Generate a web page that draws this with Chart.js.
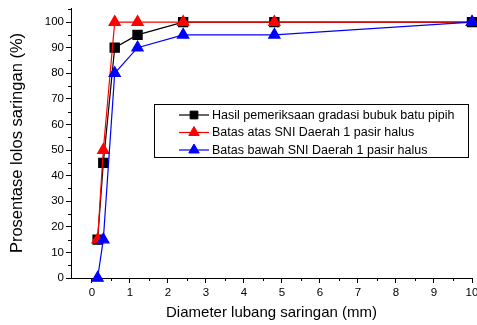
<!DOCTYPE html>
<html>
<head>
<meta charset="utf-8">
<script src="https://cdn.jsdelivr.net/npm/chart.js@4.4.1/dist/chart.umd.min.js"></script>
<style>
  html, body { margin: 0; padding: 0; background: #fff; }
  #wrap { width: 477px; height: 325px; position: relative; }
</style>
</head>
<body>
<div id="wrap"><canvas id="chart"></canvas></div>
<script>
// sieve sizes (mm)
const diameters = [0.15, 0.3, 0.6, 1.2, 2.4, 4.8, 10];
const hasil = [15, 45, 90, 95, 100, 100, 100];
const batasAtas = [15, 50, 100, 100, 100, 100, 100];
const batasBawah = [0, 15, 80, 90, 95, 95, 100];

const xTicks = [0, 1, 2, 3, 4, 5, 6, 7, 8, 9, 10];
const yTicks = [0, 10, 20, 30, 40, 50, 60, 70, 80, 90, 100];
const xMinor = [0.5, 1.5, 2.5, 3.5, 4.5, 5.5, 6.5, 7.5, 8.5, 9.5];
const yMinor = [5, 15, 25, 35, 45, 55, 65, 75, 85, 95, 105];

const FONT = "'Liberation Sans', Arial, sans-serif";

function toPoints(ys) {
    return diameters.map((d, i) => ({ x: d, y: ys[i] }));
}

// minor ticks, shorter than the major ones
const minorTicks = {
    id: "minorTicks",
    afterDraw(chart) {
        const ctx = chart.ctx;
        const xs = chart.scales.x, ys = chart.scales.y;
        ctx.save();
        ctx.strokeStyle = "#000";
        ctx.lineWidth = 1;
        ctx.beginPath();
        xMinor.forEach(v => {
            const px = Math.round(xs.getPixelForValue(v)) + 0.5;
            ctx.moveTo(px, xs.top);
            ctx.lineTo(px, xs.top + 3);
        });
        yMinor.forEach(v => {
            if (v > ys.max) return;
            const py = Math.round(ys.getPixelForValue(v)) + 0.5;
            ctx.moveTo(ys.right, py);
            ctx.lineTo(ys.right - 3, py);
        });
        ctx.stroke();
        ctx.restore();
    }
};

// legend box inside the plot
const boxLegend = {
    id: "boxLegend",
    afterDraw(chart) {
        const ctx = chart.ctx;
        const left = 154, top = 104, width = 314, height = 53;
        ctx.save();
        ctx.fillStyle = "#fff";
        ctx.fillRect(left, top, width, height);
        ctx.strokeStyle = "#000";
        ctx.lineWidth = 1;
        ctx.strokeRect(left + 0.5, top + 0.5, width, height);
        ctx.font = "12.5px " + FONT;
        ctx.textBaseline = "middle";
        chart.data.datasets.forEach((ds, i) => {
            const y = top + 11 + i * 17.5;
            ctx.strokeStyle = ds.borderColor;
            ctx.lineWidth = 1.2;
            ctx.beginPath();
            ctx.moveTo(179, y);
            ctx.lineTo(209, y);
            ctx.stroke();
            ctx.fillStyle = ds.backgroundColor;
            ctx.lineWidth = 1;
            Chart.helpers.drawPoint(ctx, {
                pointStyle: ds.pointStyle,
                radius: ds.pointStyle === "rect" ? 5.5 : 6,
                rotation: 0,
                borderWidth: 1
            }, 194, y);
            ctx.fillStyle = "#000";
            ctx.fillText(ds.label, 212, y + 0.5);
        });
        ctx.restore();
    }
};

const noPadding = () => ({ left: 0, right: 0, top: 0, bottom: 0 });

new Chart(document.getElementById("chart").getContext("2d"), {
    type: "line",
    data: {
        datasets: [
            {
                label: "Hasil pemeriksaan gradasi bubuk batu pipih",
                data: toPoints(hasil),
                borderColor: "#000000",
                backgroundColor: "#000000",
                pointStyle: "rect",
                pointRadius: 6.5,
                borderWidth: 1.2,
                order: 2
            },
            {
                label: "Batas atas SNI Daerah 1 pasir halus",
                data: toPoints(batasAtas),
                borderColor: "#ff0000",
                backgroundColor: "#ff0000",
                pointStyle: "triangle",
                pointRadius: 6.5,
                borderWidth: 1.2,
                order: 1
            },
            {
                label: "Batas bawah SNI Daerah 1 pasir halus",
                data: toPoints(batasBawah),
                borderColor: "#0000ff",
                backgroundColor: "#0000ff",
                pointStyle: "triangle",
                pointRadius: 6.5,
                borderWidth: 1.2,
                order: 0
            }
        ]
    },
    options: {
        responsive: true,
        maintainAspectRatio: false,
        animation: false,
        clip: false,
        layout: {
            autoPadding: false,
            padding: { top: 8, right: 5, left: 0, bottom: 0 }
        },
        elements: {
            line: { tension: 0 },
            point: { borderWidth: 1, hoverRadius: 6.5 }
        },
        plugins: {
            legend: { display: false },
            tooltip: { enabled: false }
        },
        scales: {
            x: {
                type: "linear",
                min: -0.55,
                max: 10,
                afterBuildTicks: scale => { scale.ticks = xTicks.map(v => ({ value: v })); },
                afterFit: scale => {
                    scale.height = 47;
                    scale.getPadding = noPadding;
                },
                grid: {
                    display: true,
                    drawOnChartArea: false,
                    drawTicks: true,
                    tickLength: 5,
                    color: "#000"
                },
                border: { display: true, color: "#000", width: 1 },
                ticks: {
                    color: "#000",
                    padding: 3,
                    maxRotation: 0,
                    font: { family: FONT, size: 11.5 }
                },
                title: {
                    display: true,
                    text: "Diameter lubang saringan (mm)",
                    color: "#000",
                    padding: { top: 2, bottom: 3 },
                    font: { family: FONT, size: 15 }
                }
            },
            y: {
                type: "linear",
                min: 0,
                max: 105.5,
                afterBuildTicks: scale => { scale.ticks = yTicks.map(v => ({ value: v })); },
                afterFit: scale => {
                    scale.width = 71;
                    scale.getPadding = noPadding;
                },
                grid: {
                    display: true,
                    drawOnChartArea: false,
                    drawTicks: true,
                    tickLength: 5,
                    color: "#000"
                },
                border: { display: true, color: "#000", width: 1 },
                ticks: {
                    color: "#000",
                    padding: 2,
                    font: { family: FONT, size: 11.5 }
                },
                title: {
                    display: true,
                    text: "Prosentase lolos saringan (%)",
                    color: "#000",
                    padding: { top: 8, bottom: 2 },
                    font: { family: FONT, size: 16.5 }
                }
            }
        }
    },
    plugins: [minorTicks, boxLegend]
});
</script>
</body>
</html>
